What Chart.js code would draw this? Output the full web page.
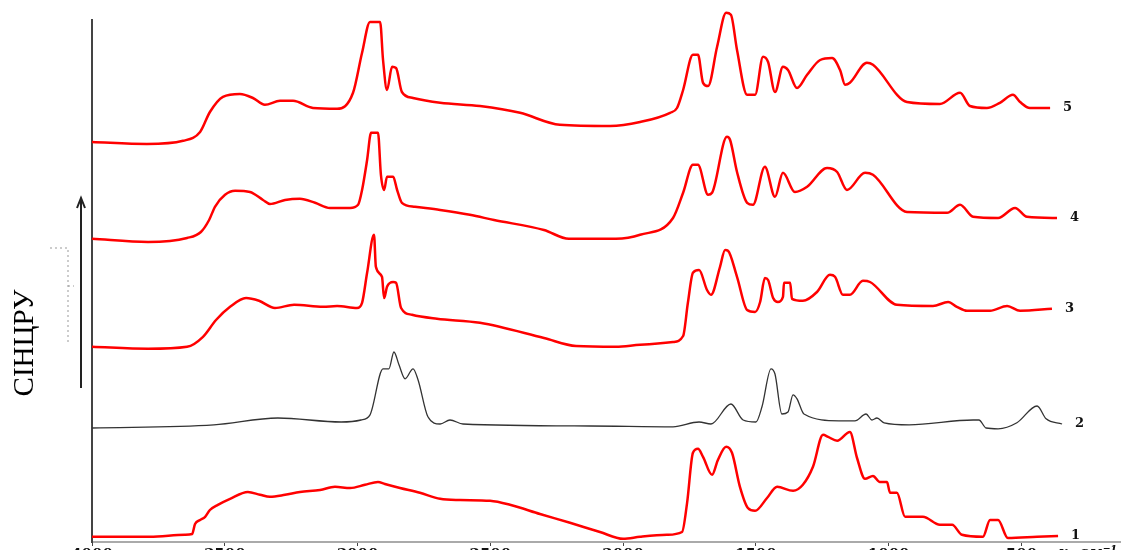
<!DOCTYPE html>
<html>
<head>
<meta charset="utf-8">
<script src="https://cdn.jsdelivr.net/npm/chart.js@4.4.1/dist/chart.umd.min.js"></script>
<style>
    html, body { margin: 0; padding: 0; background: #fff; }
    .frame { width: 1121px; height: 550px; overflow: hidden; }
    .box { width: 1121px; height: 570px; position: relative; }
</style>
</head>
<body>
<div class="frame"><div class="box"><canvas id="irChart"></canvas></div></div>
<script>
// IR spectra, [wavenumber cm-1, intensity a.u.] (curves offset vertically as in the figure)
var spectrum1 = [
    [4000, 1.3], [3782, 1.3], [3650, 1.8], [3623, 2], [3612, 4.5], [3593, 5.5], [3574, 6.3], [3556, 8],
    [3526, 9.3], [3480, 10.8], [3413, 12.5], [3367, 11.8], [3330, 11.3], [3273, 11.8], [3217, 12.5],
    [3141, 13], [3085, 13.8], [3028, 13.5], [2972, 14.3], [2923, 15], [2897, 14.5], [2840, 13.5],
    [2765, 12.3], [2689, 10.8], [2614, 10.5], [2501, 10.3], [2426, 9.3], [2313, 7], [2200, 4.8],
    [2087, 2.5], [2000, 0.8], [1936, 1.3], [1835, 1.8], [1778, 2.5], [1759, 9.8], [1737, 22.3],
    [1718, 23.3], [1699, 21.3], [1665, 16.8], [1643, 20.5], [1612, 23.8], [1590, 22.3], [1560, 13.8],
    [1530, 8.5], [1503, 7.8], [1458, 11], [1420, 13.8], [1360, 12.8], [1323, 14.3], [1285, 18.8],
    [1247, 26.8], [1228, 26.3], [1194, 25.3], [1146, 27.5], [1119, 21], [1089, 15.8], [1059, 16.5],
    [1033, 15], [1006, 15], [995, 12.3], [969, 12.3], [938, 6.3], [871, 6.3], [807, 4.3], [761, 4.3],
    [724, 1.8], [645, 1.3], [618, 5.5], [588, 5.5], [551, 1], [441, 1.3], [362, 1.5]
];
var spectrum2 = [
    [4000, 28.5], [3541, 29.3], [3300, 31], [3062, 30], [2987, 30.5], [2953, 31.8], [2904, 43.3],
    [2882, 43.3], [2863, 47.5], [2844, 44.3], [2821, 40.8], [2791, 43.3], [2772, 40.5], [2735, 31.3],
    [2689, 29.5], [2652, 30.5], [2603, 29.5], [2125, 29], [1812, 28.8], [1714, 30], [1669, 29.5],
    [1594, 34.5], [1548, 30.5], [1500, 30], [1477, 33.8], [1443, 43.3], [1428, 42], [1402, 32],
    [1379, 32.5], [1360, 36.8], [1345, 35.8], [1319, 32], [1187, 30.3], [1127, 30.3], [1085, 32],
    [1063, 30.5], [1044, 31], [1017, 29.8], [923, 29.3], [682, 30.5], [660, 30.5], [633, 28.5],
    [588, 28.3], [517, 29.8], [441, 34], [407, 30.8], [347, 29.5]
];
var spectrum3 = [
    [4000, 48.8], [3789, 48.3], [3642, 48.8], [3582, 51.3], [3533, 55.5], [3480, 58.8], [3420, 61],
    [3371, 60.3], [3311, 58.5], [3239, 59.3], [3130, 58.8], [3077, 59], [3002, 58.5], [2983, 59.8],
    [2964, 67.3], [2938, 76.8], [2931, 68.8], [2908, 66.3], [2900, 61], [2889, 63.8], [2866, 65],
    [2855, 64.8], [2836, 58.5], [2795, 56.8], [2701, 55.8], [2539, 54.8], [2298, 51], [2177, 49],
    [2027, 48.8], [1936, 49.3], [1812, 50], [1774, 51.5], [1756, 59.8], [1737, 67.3], [1714, 68],
    [1684, 63], [1669, 61.8], [1635, 68.8], [1616, 73], [1605, 72.8], [1571, 66.3], [1533, 58],
    [1503, 57.5], [1484, 60], [1466, 66], [1454, 65.5], [1435, 61], [1417, 60], [1398, 61.3],
    [1394, 64.8], [1371, 64.8], [1364, 60.8], [1323, 60.3], [1270, 62.5], [1221, 66.8], [1202, 66.3],
    [1172, 61.8], [1146, 61.8], [1097, 65.3], [1070, 65], [969, 59.3], [833, 59], [776, 60],
    [743, 58.8], [705, 57.8], [618, 57.8], [554, 59], [505, 57.8], [385, 58.3]
];
var spectrum4 = [
    [4000, 75.8], [3789, 75], [3642, 76], [3590, 77.5], [3559, 80.5], [3537, 83.8], [3499, 86.8],
    [3461, 87.8], [3405, 87.5], [3356, 85.5], [3330, 84.5], [3273, 85.5], [3217, 85.8], [3160, 84.8],
    [3104, 83.5], [3028, 83.5], [2998, 84.3], [2983, 88], [2964, 95.5], [2949, 102.3], [2923, 102.3],
    [2912, 91.8], [2900, 88], [2889, 91.3], [2866, 91.3], [2851, 88], [2833, 84.8], [2784, 83.8],
    [2689, 83], [2577, 81.8], [2486, 80.5], [2298, 78], [2204, 75.8], [2027, 75.8], [1936, 76.8],
    [1812, 81], [1774, 87.3], [1737, 94.3], [1718, 94.3], [1680, 86.8], [1665, 87.3], [1609, 101.3],
    [1597, 100.5], [1571, 92.5], [1533, 84.8], [1511, 84.3], [1466, 93.8], [1428, 86.3], [1398, 92.3],
    [1353, 87.5], [1307, 88.8], [1232, 93.5], [1194, 92.5], [1157, 88], [1089, 92.3], [1059, 91.8],
    [931, 82.5], [780, 82.3], [731, 84.3], [682, 81.3], [588, 81], [524, 83.5], [479, 81.3], [366, 81]
];
var spectrum5 = [
    [4000, 100], [3793, 99.5], [3657, 100.3], [3593, 102.5], [3556, 107.5], [3507, 111.3], [3443, 112],
    [3394, 111], [3349, 109.3], [3292, 110.3], [3243, 110.3], [3168, 108.5], [3077, 108.3],
    [3017, 112.3], [2983, 122.3], [2953, 130], [2915, 130], [2904, 120.5], [2889, 113], [2870, 118.8],
    [2855, 118.5], [2833, 112.5], [2791, 111], [2689, 109.8], [2539, 109], [2388, 107.3], [2238, 104.3],
    [2049, 104], [1936, 105], [1823, 107.3], [1797, 108.5], [1774, 113], [1737, 121.8], [1718, 121.8],
    [1699, 114.8], [1680, 114], [1646, 123.8], [1612, 132.3], [1594, 131.8], [1571, 123], [1533, 111.8],
    [1503, 111.8], [1473, 121.3], [1454, 120], [1428, 112.5], [1398, 118.8], [1379, 118], [1345, 113.5],
    [1307, 116.8], [1258, 120.5], [1213, 121], [1183, 118], [1164, 114.3], [1146, 114.8], [1082, 119.8],
    [1059, 119.3], [931, 110], [807, 109.5], [731, 112.3], [694, 109], [630, 108.5], [581, 109.8],
    [532, 111.8], [505, 110], [468, 108.5], [392, 108.5]
];
var curveNames = ['1', '2', '3', '4', '5'];
var xTicks = [4000, 3500, 3000, 2500, 2000, 1500, 1000, 500];
var unitAt = 250;
var xUnit = 'ν, см⁻¹';
var yTitle = 'СІНЦРУ';

(function() {
    var spectra = [spectrum1, spectrum2, spectrum3, spectrum4, spectrum5];
    var colors = ['#ff0000', '#333333', '#ff0000', '#ff0000', '#ff0000'];

    var datasets = spectra.map(function(s, i) {
        return {
            label: curveNames[i],
            data: s.map(function(p) { return { x: p[0], y: p[1] }; }),
            borderColor: colors[i],
            borderWidth: i === 1 ? 1.3 : 2.5,
            pointRadius: 0,
            cubicInterpolationMode: 'monotone',
            clip: false
        };
    });

    // curve numbers, axis unit, y title and the arrow at the left
    var decor = {
        id: 'decor',
        afterDraw: function(chart) {
            var ctx = chart.ctx;
            var xs = chart.scales.x, ys = chart.scales.y;
            ctx.save();
            ctx.fillStyle = '#111';
            ctx.font = 'bold 13px "DejaVu Serif"';
            ctx.textAlign = 'left';
            ctx.textBaseline = 'middle';
            chart.data.datasets.forEach(function(ds) {
                var last = ds.data[ds.data.length - 1];
                ctx.fillText(ds.label, xs.getPixelForValue(last.x) + 13, ys.getPixelForValue(last.y));
            });

            ctx.textAlign = 'center';
            ctx.textBaseline = 'alphabetic';
            ctx.font = 'bold italic 15px "DejaVu Serif"';
            ctx.fillText(xUnit, xs.getPixelForValue(unitAt), chart.chartArea.bottom + 15);

            ctx.translate(25, 343);
            ctx.rotate(-Math.PI / 2);
            ctx.textBaseline = 'middle';
            ctx.font = '29px "Liberation Serif"';
            ctx.fillStyle = '#000';
            ctx.fillText(yTitle, 0, 0);
            ctx.restore();

            ctx.save();
            ctx.strokeStyle = '#222';
            ctx.lineWidth = 2;
            ctx.beginPath();
            ctx.moveTo(81, 388);
            ctx.lineTo(81, 200);
            ctx.stroke();
            ctx.beginPath();
            ctx.moveTo(77, 208);
            ctx.lineTo(81, 198);
            ctx.lineTo(85, 208);
            ctx.stroke();

            ctx.strokeStyle = '#999';
            ctx.lineWidth = 1;
            ctx.setLineDash([2, 3]);
            ctx.beginPath();
            ctx.moveTo(50, 248);
            ctx.lineTo(68, 248);
            ctx.lineTo(68, 342);
            ctx.moveTo(68, 286);
            ctx.lineTo(74, 286);
            ctx.stroke();
            ctx.restore();
        }
    };

    new Chart(document.getElementById('irChart'), {
        type: 'line',
        data: { datasets: datasets },
        options: {
            responsive: true,
            maintainAspectRatio: false,
            animation: false,
            layout: { padding: { top: 20, right: 0, left: 0, bottom: 0 } },
            plugins: { legend: { display: false }, tooltip: { enabled: false } },
            scales: {
                x: {
                    type: 'linear',
                    reverse: true,
                    min: 125,
                    max: 4000,
                    afterBuildTicks: function(scale) {
                        scale.ticks = xTicks.map(function(v) { return { value: v }; });
                    },
                    afterFit: function(scale) { scale.height = 28; },
                    border: { color: '#aaaaaa', width: 2 },
                    grid: { drawOnChartArea: false, tickLength: 4, tickColor: '#444' },
                    ticks: {
                        padding: 0,
                        maxRotation: 0,
                        autoSkip: false,
                        color: '#111',
                        font: { family: 'DejaVu Serif', size: 15, weight: 'bold' },
                        callback: function(v) { return String(v); }
                    }
                },
                y: {
                    min: 0,
                    max: 130.5,
                    afterFit: function(scale) { scale.width = 92; },
                    border: { color: '#444', width: 2 },
                    grid: { drawOnChartArea: false, drawTicks: false },
                    ticks: { display: false }
                }
            }
        },
        plugins: [decor]
    });
})();
</script>
</body>
</html>
